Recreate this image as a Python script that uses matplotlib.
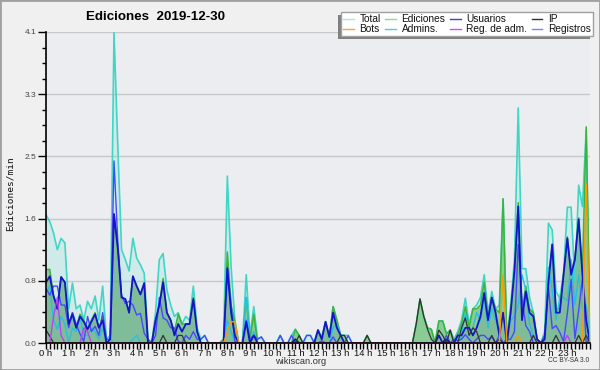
import numpy as np
import matplotlib
matplotlib.use("Agg")
import matplotlib.pyplot as plt
from matplotlib.lines import Line2D
from matplotlib.patches import Rectangle

# ---------------- data (edits per minute, 10-minute steps, 0h..24h) ----------------
total = [1.69, 1.60, 1.45, 1.23, 1.38, 1.32,
         0.45, 0.79, 0.45, 0.50, 0.30, 0.55,
         0.45, 0.62, 0.30, 0.75, 0.05, 0.10,
         4.10, 2.60, 1.23, 1.10, 0.95, 1.38,
         1.12, 1.03, 0.92, 0.05, 0.00, 0.40,
         1.10, 1.18, 0.70, 0.50, 0.35, 0.40,
         0.25, 0.35, 0.30, 0.75, 0.20, 0.05,
         0.10, 0.00, 0.00, 0.00, 0.00, 0.05,
         2.20, 1.00, 0.30, 0.00, 0.00, 0.90,
         0.10, 0.48, 0.05, 0.08, 0.00, 0.00,
         0.00, 0.00, 0.10, 0.00, 0.00, 0.10,
         0.18, 0.10, 0.00, 0.10, 0.10, 0.00,
         0.17, 0.08, 0.28, 0.08, 0.48, 0.30,
         0.10, 0.10, 0.10, 0.00, 0.00, 0.00,
         0.00, 0.10, 0.00, 0.00, 0.00, 0.00,
         0.00, 0.00, 0.00, 0.00, 0.00, 0.00,
         0.00, 0.00, 0.25, 0.58, 0.35, 0.20,
         0.18, 0.00, 0.29, 0.29, 0.12, 0.17,
         0.05, 0.15, 0.30, 0.59, 0.25, 0.45,
         0.50, 0.60, 0.90, 0.40, 0.68, 0.45,
         0.50, 1.90, 0.05, 0.50, 1.10, 3.10,
         0.98, 0.98, 0.60, 0.40, 0.04, 0.00,
         0.15, 1.58, 1.49, 0.68, 0.59, 0.92,
         1.79, 1.79, 0.81, 2.08, 1.80, 2.81,
         0.17]

ediciones = [0.97, 0.97, 0.62, 0.50, 0.87, 0.80,
             0.25, 0.40, 0.20, 0.38, 0.30, 0.20,
             0.30, 0.40, 0.20, 0.35, 0.00, 0.05,
             1.70, 1.25, 0.60, 0.58, 0.40, 0.88,
             0.75, 0.64, 0.79, 0.00, 0.00, 0.30,
             0.50, 0.85, 0.40, 0.30, 0.15, 0.38,
             0.25, 0.25, 0.25, 0.60, 0.15, 0.00,
             0.00, 0.00, 0.00, 0.00, 0.00, 0.05,
             1.20, 0.50, 0.28, 0.00, 0.00, 0.60,
             0.05, 0.38, 0.00, 0.00, 0.00, 0.00,
             0.00, 0.00, 0.00, 0.00, 0.00, 0.00,
             0.18, 0.10, 0.00, 0.00, 0.00, 0.00,
             0.17, 0.05, 0.28, 0.08, 0.48, 0.30,
             0.10, 0.10, 0.00, 0.00, 0.00, 0.00,
             0.00, 0.10, 0.00, 0.00, 0.00, 0.00,
             0.00, 0.00, 0.00, 0.00, 0.00, 0.00,
             0.00, 0.00, 0.25, 0.58, 0.35, 0.20,
             0.18, 0.00, 0.29, 0.29, 0.12, 0.17,
             0.00, 0.12, 0.25, 0.48, 0.20, 0.45,
             0.45, 0.50, 0.80, 0.35, 0.60, 0.45,
             0.40, 1.90, 0.00, 0.45, 0.95, 1.85,
             0.40, 0.75, 0.45, 0.40, 0.05, 0.00,
             0.10, 0.85, 1.30, 0.45, 0.45, 0.90,
             1.40, 0.95, 1.10, 1.65, 0.95, 2.85,
             0.10]

usuarios = [0.80, 0.88, 0.62, 0.45, 0.87, 0.80,
            0.25, 0.38, 0.20, 0.35, 0.28, 0.18,
            0.28, 0.38, 0.20, 0.30, 0.00, 0.05,
            1.70, 1.25, 0.60, 0.58, 0.40, 0.88,
            0.75, 0.64, 0.79, 0.00, 0.00, 0.30,
            0.50, 0.80, 0.40, 0.30, 0.10, 0.25,
            0.15, 0.25, 0.25, 0.58, 0.15, 0.00,
            0.00, 0.00, 0.00, 0.00, 0.00, 0.00,
            0.98, 0.40, 0.10, 0.00, 0.00, 0.28,
            0.00, 0.10, 0.00, 0.00, 0.00, 0.00,
            0.00, 0.00, 0.00, 0.00, 0.00, 0.00,
            0.05, 0.00, 0.00, 0.00, 0.00, 0.00,
            0.17, 0.05, 0.28, 0.08, 0.40, 0.20,
            0.10, 0.00, 0.00, 0.00, 0.00, 0.00,
            0.00, 0.00, 0.00, 0.00, 0.00, 0.00,
            0.00, 0.00, 0.00, 0.00, 0.00, 0.00,
            0.00, 0.00, 0.00, 0.00, 0.00, 0.00,
            0.00, 0.00, 0.10, 0.00, 0.05, 0.00,
            0.00, 0.10, 0.10, 0.20, 0.20, 0.10,
            0.20, 0.35, 0.66, 0.30, 0.60, 0.40,
            0.10, 0.40, 0.00, 0.40, 0.95, 1.80,
            0.30, 0.68, 0.40, 0.35, 0.05, 0.00,
            0.05, 0.80, 1.30, 0.40, 0.40, 0.90,
            1.38, 0.90, 1.10, 1.63, 0.90, 0.30,
            0.00]

ip = [0.17, 0.09, 0.00, 0.00, 0.00, 0.00,
      0.00, 0.00, 0.00, 0.00, 0.00, 0.00,
      0.00, 0.00, 0.00, 0.00, 0.00, 0.00,
      0.00, 0.00, 0.00, 0.00, 0.00, 0.00,
      0.00, 0.00, 0.00, 0.00, 0.00, 0.00,
      0.00, 0.10, 0.00, 0.00, 0.00, 0.10,
      0.10, 0.00, 0.00, 0.00, 0.00, 0.00,
      0.00, 0.00, 0.00, 0.00, 0.00, 0.00,
      0.00, 0.00, 0.00, 0.00, 0.00, 0.00,
      0.00, 0.00, 0.00, 0.00, 0.00, 0.00,
      0.00, 0.00, 0.00, 0.00, 0.00, 0.00,
      0.00, 0.10, 0.00, 0.00, 0.00, 0.00,
      0.00, 0.00, 0.00, 0.00, 0.00, 0.00,
      0.10, 0.10, 0.00, 0.00, 0.00, 0.00,
      0.00, 0.10, 0.00, 0.00, 0.00, 0.00,
      0.00, 0.00, 0.00, 0.00, 0.00, 0.00,
      0.00, 0.00, 0.25, 0.58, 0.35, 0.18,
      0.05, 0.00, 0.17, 0.10, 0.00, 0.17,
      0.00, 0.00, 0.20, 0.33, 0.10, 0.20,
      0.15, 0.00, 0.00, 0.00, 0.10, 0.00,
      0.05, 0.00, 0.00, 0.00, 0.00, 0.00,
      0.00, 0.00, 0.00, 0.10, 0.00, 0.00,
      0.00, 0.00, 0.00, 0.10, 0.00, 0.00,
      0.00, 0.00, 0.00, 0.10, 0.00, 0.10,
      0.00]

bots = [0.0] * 48 + [0.15, 0.28, 0.28] + [0.0] * 70 + [0.90, 0.00, 0.00, 0.00, 0.10] \
       + [0.0] * 17 + [2.10, 0.00]

registros = [0.72, 0.63, 0.75, 0.75, 0.50, 0.50,
             0.20, 0.40, 0.25, 0.12, 0.02, 0.35,
             0.15, 0.22, 0.10, 0.40, 0.05, 0.05,
             2.40, 1.35, 0.63, 0.52, 0.55, 0.50,
             0.37, 0.39, 0.13, 0.05, 0.00, 0.10,
             0.60, 0.33, 0.30, 0.20, 0.20, 0.02,
             0.00, 0.10, 0.05, 0.15, 0.05, 0.05,
             0.10, 0.00, 0.00, 0.00, 0.00, 0.00,
             1.00, 0.50, 0.02, 0.00, 0.00, 0.30,
             0.05, 0.10, 0.05, 0.08, 0.00, 0.00,
             0.00, 0.00, 0.10, 0.00, 0.00, 0.10,
             0.00, 0.00, 0.00, 0.10, 0.10, 0.00,
             0.00, 0.03, 0.00, 0.00, 0.08, 0.00,
             0.00, 0.00, 0.10, 0.00, 0.00, 0.00,
             0.00, 0.00, 0.00, 0.00, 0.00, 0.00,
             0.00, 0.00, 0.00, 0.00, 0.00, 0.00,
             0.00, 0.00, 0.00, 0.00, 0.00, 0.00,
             0.00, 0.00, 0.00, 0.00, 0.10, 0.00,
             0.05, 0.03, 0.05, 0.11, 0.05, 0.00,
             0.05, 0.10, 0.10, 0.05, 0.08, 0.00,
             0.10, 0.00, 0.05, 0.05, 0.15, 1.30,
             0.58, 0.23, 0.15, 0.00, 0.00, 0.00,
             0.10, 0.73, 0.19, 0.23, 0.14, 0.02,
             0.39, 0.84, 0.06, 0.43, 0.85, 0.00,
             0.07]

admins = [0.65, 0.75, 0.30, 0.18, 0.35, 0.25,
          0.00, 0.20, 0.15, 0.35, 0.10, 0.10,
          0.20, 0.15, 0.05, 0.20, 0.00, 0.05,
          0.00, 0.00, 0.00, 0.00, 0.00, 0.05,
          0.10, 0.00, 0.00, 0.00, 0.00, 0.00,
          0.00, 0.00, 0.00, 0.00, 0.00, 0.00,
          0.00, 0.00, 0.00, 0.00, 0.00, 0.00,
          0.00, 0.00, 0.00, 0.00, 0.00, 0.00,
          0.30, 0.15, 0.00, 0.00, 0.00, 0.60,
          0.00, 0.15, 0.00, 0.00, 0.00, 0.00,
          0.00, 0.00, 0.10, 0.00, 0.00, 0.00,
          0.05, 0.00, 0.00, 0.00, 0.00, 0.00,
          0.00, 0.00, 0.00, 0.00, 0.20, 0.25,
          0.10, 0.00, 0.00, 0.00, 0.00, 0.00,
          0.00, 0.00, 0.00, 0.00, 0.00, 0.00,
          0.00, 0.00, 0.00, 0.00, 0.00, 0.00,
          0.00, 0.00, 0.00, 0.00, 0.00, 0.00,
          0.00, 0.00, 0.00, 0.00, 0.00, 0.00,
          0.00, 0.00, 0.10, 0.40, 0.10, 0.20,
          0.40, 0.30, 0.60, 0.20, 0.45, 0.30,
          0.15, 0.40, 0.00, 0.30, 0.35, 0.50,
          0.90, 0.70, 0.25, 0.10, 0.00, 0.00,
          0.00, 1.00, 0.70, 0.30, 0.60, 0.60,
          0.55, 1.10, 0.50, 0.90, 0.45, 0.50,
          0.10]

reg_adm = [0.0, 0.0, 0.35, 0.60, 0.10, 0.0,
           0.0, 0.0, 0.0, 0.0, 0.20, 0.15] + [0.0] * 126 + [0.10] + [0.0] * 6

hour_labels = [f"{h} h" for h in range(24)]

# ---------------- figure ----------------
SANS = ["Liberation Sans", "DejaVu Sans"]
plt.rcParams["font.family"] = SANS

W, H = 600, 370
fig = plt.figure(figsize=(W / 100, H / 100), dpi=100)
fig.patch.set_facecolor("#f0f0f0")
ax = fig.add_axes([46 / W, 1 - 343 / H, (590 - 46) / W, (343 - 32) / H])
ax.set_facecolor("#ecedf0")

n = len(total)
t = np.arange(n) / 6.0

ax.fill_between(t, total, color="#40e0d0", alpha=0.16, lw=0, zorder=1)
ax.fill_between(t, ediciones, color="#5cb85c", alpha=0.6, lw=0, zorder=2)
ax.fill_between(t, usuarios, color="#3050c0", alpha=0.12, lw=0, zorder=3)

ax.plot(t, total, color="#3fd6c6", lw=1.2, zorder=4)
ax.plot(t, ediciones, color="#3cb43c", lw=1.1, zorder=5)
ax.plot(t, admins, color="#28c0e0", lw=1.0, zorder=6)
ax.plot(t, registros, color="#4848ff", lw=1.0, zorder=7)
ax.plot(t, usuarios, color="#1414c8", lw=1.3, zorder=8)
ax.plot(t, ip, color="#333333", lw=0.9, zorder=9)
ax.plot(t, bots, color="#ff9900", lw=1.0, zorder=10)
ax.plot(t, reg_adm, color="#c040f0", lw=1.0, zorder=11)

ymax = 4.1
ax.set_ylim(0, ymax)
ax.set_xlim(0, 24)
major_y = [ymax * k / 5 for k in range(6)]
ax.set_yticks(major_y)
ax.set_yticklabels([f"{v:.1f}" for v in major_y], fontsize=6, color="#444444")
ax.set_yticks([ymax * k / 20 for k in range(21)], minor=True)
ax.set_xticks(range(24))
ax.set_xticklabels(hour_labels, fontsize=6.8, color="#111111")
ax.set_xticks(np.arange(0, 24 + 1e-9, 1 / 6), minor=True)
ax.tick_params(axis="y", which="major", length=6, width=1, direction="out", pad=1)
ax.tick_params(axis="y", which="minor", length=3, width=1, direction="out")
ax.tick_params(axis="x", which="both", length=4, width=1, direction="out", pad=0.5)
ax.grid(axis="y", which="major", color="#c8c8c8", lw=1, zorder=0)
ax.set_axisbelow(True)
for s in ["top", "right"]:
    ax.spines[s].set_visible(False)
for s in ["left", "bottom"]:
    ax.spines[s].set_linewidth(1.2)
    ax.spines[s].set_color("black")
    ax.spines[s].set_zorder(20)

fig.text(10 / W, 1 - 194 / H, "Ediciones/min", rotation=90, ha="center", va="center",
         fontsize=6.8, family=["DejaVu Sans Mono"], color="#111111")

fig.text(155 / W, 1 - 17 / H, "Ediciones  2019-12-30", ha="center", va="center",
         fontsize=9.6, fontweight="bold")
fig.text(301 / W, 1 - 362 / H, "wikiscan.org", ha="center", va="center",
         fontsize=6.7, color="#333333")
fig.text(589 / W, 1 - 361 / H, "CC BY-SA 3.0", ha="right", va="center",
         fontsize=4.8, color="#333333")

# legend
leg_items = [("Total", "#a8e8e0"), ("Bots", "#ffa040"),
             ("Ediciones", "#90d890"), ("Admins.", "#50c8e0"),
             ("Usuarios", "#4040d0"), ("Reg. de adm.", "#d050e0"),
             ("IP", "#303030"), ("Registros", "#8080f0")]
handles = [Line2D([0], [0], color=c, lw=1) for _, c in leg_items]
labels = [l for l, _ in leg_items]
leg = fig.legend(handles, labels, ncol=4, loc="upper right",
                 bbox_to_anchor=(593 / W, 1 - 12 / H), fontsize=7.3,
                 frameon=True, fancybox=False, edgecolor="#a0a0a0",
                 framealpha=1, facecolor="white", borderpad=0.22,
                 handlelength=1.05, handletextpad=0.55, columnspacing=0.45,
                 labelspacing=0.0, borderaxespad=0)
leg.set_zorder(30)
for txt in leg.get_texts():
    txt.set_color("#111111")
fig.canvas.draw()
bb = leg.get_window_extent()
fig.add_artist(Rectangle((bb.x0 - 3, bb.y0 - 3), bb.width, bb.height,
                         transform=None, facecolor="#808080", edgecolor="none",
                         zorder=29))

# outer border
fig.add_artist(Rectangle((0, 0), 1, 1, transform=fig.transFigure, fill=False,
                         edgecolor="#a0a0a0", lw=2, zorder=40))

fig.savefig("out.png", dpi=100, facecolor=fig.get_facecolor())
